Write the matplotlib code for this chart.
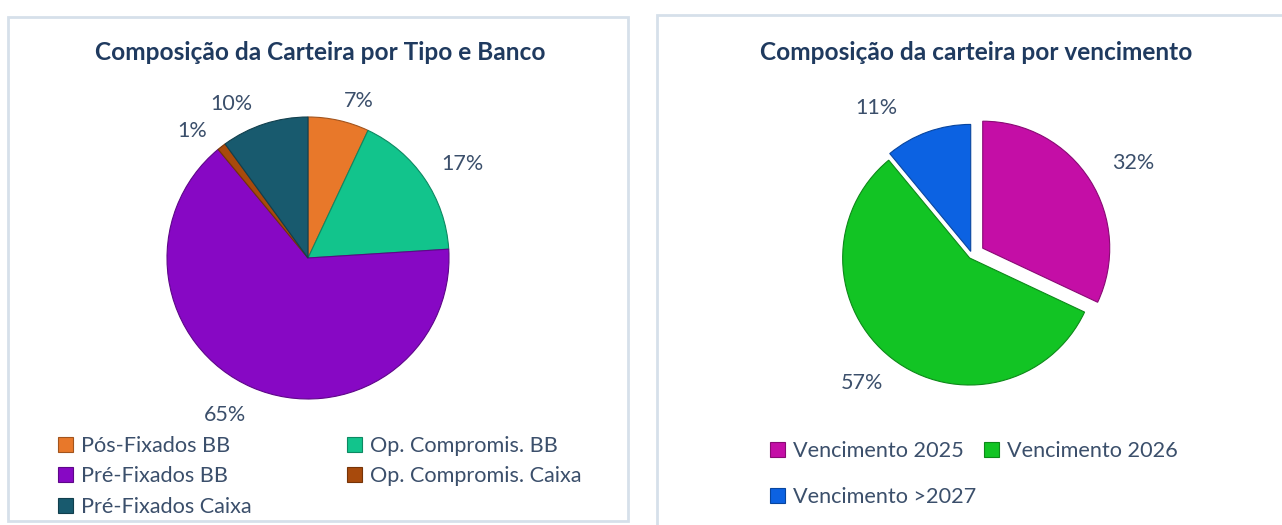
import matplotlib
matplotlib.use("Agg")
import matplotlib.pyplot as plt
from matplotlib.patches import Rectangle

W, H = 1282, 525
TITLE_C = "#1f3a5f"
TEXT_C = "#3b4f6b"
BOX_C = "#d6e0ea"

# left chart: composition by type and bank
types = ["Pós-Fixados BB", "Op. Compromis. BB", "Pré-Fixados BB",
         "Op. Compromis. Caixa", "Pré-Fixados Caixa"]
type_pct = [7, 17, 65, 1, 10]
type_colors = ["#e8782a", "#12c48c", "#8708c4", "#a84a0c", "#185a6e"]

# right chart: composition by maturity
maturities = ["Vencimento 2025", "Vencimento 2026", "Vencimento >2027"]
mat_pct = [32, 57, 11]
mat_colors = ["#c40ea6", "#12c424", "#0c62e2"]
mat_explode = [0.1, 0.03, 0.03]

# label nudges in pixels (dx right, dy down) to mimic Excel's placement
type_nudge = [(13, 11), (12, 3), (-15, -1), (-10, 9), (-23, 10)]
mat_nudge = [(8, 5), (-4, -8), (-37, 16)]

plt.rcParams["font.family"] = ["Lato", "DejaVu Sans"]

fig = plt.figure(figsize=(W / 100, H / 100), dpi=100)
fig.patch.set_facecolor("white")


def px_axes(cx, cy, r):
    # square axes centred on pixel (cx, cy) with half-size r
    return fig.add_axes([(cx - r) / W, (H - cy - r) / H, 2 * r / W, 2 * r / H])


def darker(c, f=0.7):
    rgb = matplotlib.colors.to_rgb(c)
    return tuple(v * f for v in rgb)


def style_pie(ax, wedges, texts, colors, nudge, r):
    for w, c in zip(wedges, colors):
        w.set_edgecolor(darker(c))
    for t, (dx, dy) in zip(texts, nudge):
        x, y = t.get_position()
        t.set_position((x + dx / r, y - dy / r))
        t.set_color(TEXT_C)
        t.set_fontsize(15.5)
    ax.set_xlim(-1, 1)
    ax.set_ylim(-1, 1)
    ax.set_aspect("auto")


def col_legend(handles, labels, x, y, spacing):
    fig.legend(handles, labels, loc="upper left",
               bbox_to_anchor=(x / W, 1 - y / H), frameon=False,
               fontsize=15.6, labelcolor=TEXT_C, handlelength=0.7,
               handleheight=0.7, handletextpad=0.35, labelspacing=spacing,
               borderpad=0, borderaxespad=0)


# panel frames
fig.patches.append(Rectangle((8 / W, (H - 521) / H), 620 / W, 504 / H,
                             transform=fig.transFigure, fill=False,
                             edgecolor=BOX_C, linewidth=2))
fig.patches.append(Rectangle((657 / W, (H - 530) / H), 640 / W, 515 / H,
                             transform=fig.transFigure, fill=False,
                             edgecolor=BOX_C, linewidth=2))

# ---- left pie ----
ax1 = px_axes(308, 258, 141)
w1, _, t1 = ax1.pie(type_pct, colors=type_colors, startangle=90,
                    counterclock=False, radius=1,
                    autopct=lambda p: f"{p:.0f}%", pctdistance=1.22,
                    wedgeprops=dict(linewidth=0.8))
style_pie(ax1, w1, t1, type_colors, type_nudge, 141)
fig.text(320 / W, 1 - 53 / H, "Composição da Carteira por Tipo e Banco",
         ha="center", va="center", fontsize=17.6, fontweight="bold",
         color=TITLE_C)
col_legend([w1[0], w1[2], w1[4]], [types[0], types[2], types[4]], 58, 436, 0.48)
col_legend([w1[1], w1[3]], [types[1], types[3]], 347, 436, 0.48)

# ---- right pie ----
ax2 = px_axes(972, 255, 127)
w2, _, t2 = ax2.pie(mat_pct, colors=mat_colors, startangle=90,
                    counterclock=False, radius=1, explode=mat_explode,
                    autopct=lambda p: f"{p:.0f}%", pctdistance=1.33,
                    wedgeprops=dict(linewidth=0.8))
style_pie(ax2, w2, t2, mat_colors, mat_nudge, 127)
fig.text(976 / W, 1 - 53 / H, "Composição da carteira por vencimento",
         ha="center", va="center", fontsize=17.6, fontweight="bold",
         color=TITLE_C)
col_legend([w2[0], w2[2]], [maturities[0], maturities[2]], 770, 441, 1.19)
col_legend([w2[1]], [maturities[1]], 984, 441, 1.19)

fig.savefig("out.png", dpi=100)
